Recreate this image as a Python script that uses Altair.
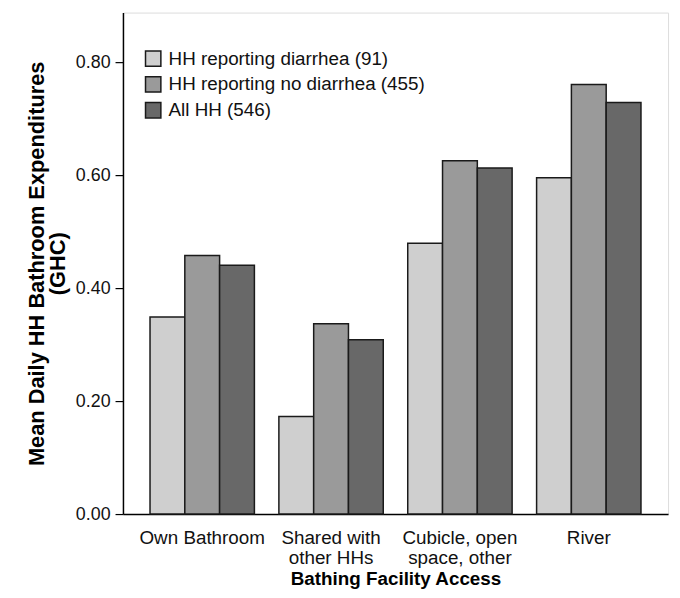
import altair as alt
import pandas as pd

facilities = ["Own Bathroom", "Shared with\nother HHs", "Cubicle, open\nspace, other", "River"]
groups = ["HH reporting diarrhea (91)", "HH reporting no diarrhea (455)", "All HH (546)"]
diarrhea = [0.349, 0.173, 0.480, 0.596]
no_diarrhea = [0.458, 0.337, 0.626, 0.761]
all_hh = [0.441, 0.309, 0.613, 0.729]
colors = ["#cfcfcf", "#9a9a9a", "#686868"]

rows = []
for series_name, vals in zip(groups, [diarrhea, no_diarrhea, all_hh]):
    for f, v in zip(facilities, vals):
        rows.append({"facility": f, "group": series_name, "value": v})
df = pd.DataFrame(rows)

font = "Liberation Sans"

chart = alt.Chart(df).mark_bar(stroke="#1a1a1a", strokeWidth=1.5).encode(
    x=alt.X("facility:N", sort=facilities,
            scale=alt.Scale(paddingInner=0.19, paddingOuter=0.21),
            axis=alt.Axis(title="Bathing Facility Access", labelAngle=0,
                          labelExpr="split(datum.label, '\\n')",
                          ticks=False, labelPadding=15, labelFontSize=19,
                          labelLineHeight=19.5, labelBaseline="top",
                          titleFontSize=19, titleFontWeight="bold",
                          titleY=71, titleBaseline="alphabetic",
                          domainColor="#000", domainWidth=1.5)),
    xOffset=alt.XOffset("group:N", sort=groups, scale=alt.Scale(paddingInner=0, paddingOuter=0)),
    y=alt.Y("value:Q", scale=alt.Scale(domain=[0, 0.8885], nice=False),
            axis=alt.Axis(title=["Mean Daily HH Bathroom Expenditures", "(GHC)"],
                          values=[0, 0.2, 0.4, 0.6, 0.8], format=".2f",
                          grid=False, tickSize=8, tickColor="#000", tickWidth=1.2,
                          labelFontSize=18, labelPadding=5,
                          titleFontSize=22, titleFontWeight="bold", titlePadding=6,
                          titleLineHeight=21,
                          domainColor="#000", domainWidth=1.5)),
    color=alt.Color("group:N", sort=groups,
                    scale=alt.Scale(domain=groups, range=colors),
                    legend=alt.Legend(title=None, orient="none", legendX=21, legendY=37,
                                      symbolType="square", symbolSize=240,
                                      symbolStrokeColor="#1a1a1a", symbolStrokeWidth=1.5,
                                      labelFontSize=19, labelColor="#111", labelLimit=0,
                                      rowPadding=3, symbolOffset=0, labelOffset=6)),
).properties(
    width=550, height=506,
    autosize=alt.AutoSizeParams(type="none"),
    padding={"left": 116, "top": 2, "right": 4, "bottom": 74},
).configure_view(
    stroke="#555", strokeWidth=1.5
).configure(
    font=font
).configure_axis(
    labelColor="#111", titleColor="#000", labelFont=font, titleFont=font
)

chart.save("out.html", embed_options={"renderer": "svg", "actions": False})
